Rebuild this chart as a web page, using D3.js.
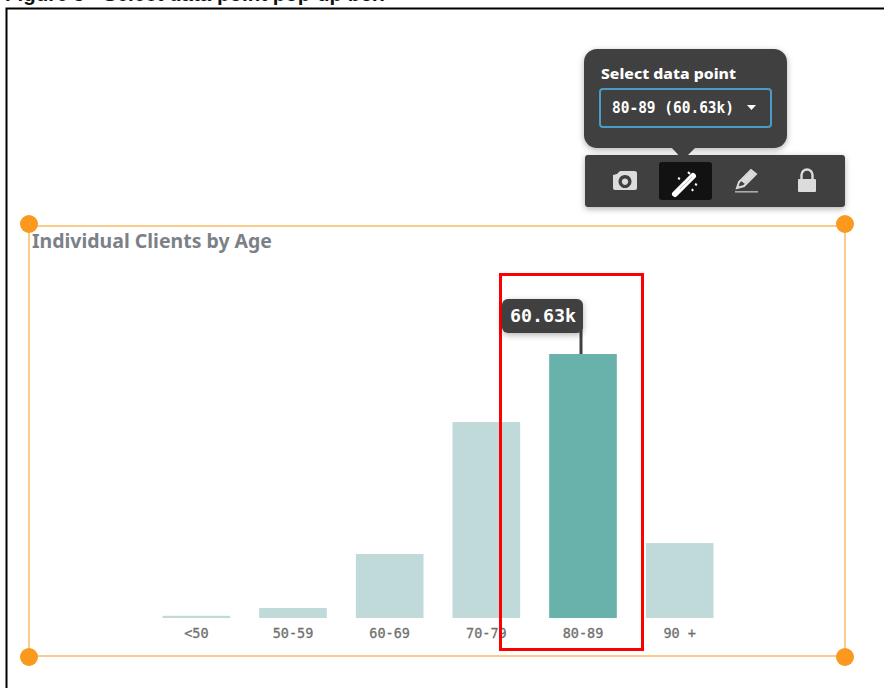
<!DOCTYPE html>
<html><head><meta charset="utf-8">
<script src="https://cdn.jsdelivr.net/npm/d3@7"></script>
<style>html,body{margin:0;padding:0;background:#fff;overflow:hidden}svg{display:block}</style>
</head><body><div id="c"></div>
<script>
const categories = ["<50","50-59","60-69","70-79","80-89","90 +"];
const clients = [0.5,2.3,14.7,45.0,60.63,17.2];
const selectedCategory = "80-89";
const pageCaption = "Figure 5 - Select data point pop-up box";
const chartTitle = "Individual Clients by Age";
const selectLabel = "Select data point";
const selectValue = "80-89 (60.63k)";
const tooltipLabel = "60.63k";

const svg = d3.select("#c").append("svg").attr("width",884).attr("height",688);
const defs = svg.append("defs");
const f = defs.append("filter").attr("id","sh").attr("x","-20%").attr("y","-20%").attr("width","140%").attr("height","150%");
f.append("feDropShadow").attr("dx",0).attr("dy",2).attr("stdDeviation",3).attr("flood-color","#000").attr("flood-opacity",.3);

// page caption and frame
svg.append("text").attr("x",5).attr("y",1).attr("font-family","Liberation Sans").attr("font-weight",700).attr("font-size",20.5).attr("fill","#111").text(pageCaption);
svg.append("path").attr("d","M6.5 688V8.5H884").attr("fill","none").attr("stroke","#000").attr("stroke-width",2);

// scales
const x = d3.scaleBand().domain(categories).range([148,728]).paddingInner(0.3).paddingOuter(0.15);
const y = d3.scaleLinear().domain([0,60.63]).range([618,354]);

// selection frame
svg.append("rect").attr("x",29).attr("y",226).attr("width",816).attr("height",430).attr("fill","none").attr("stroke","#fbbf6e").attr("stroke-width",1.6);

svg.append("text").attr("x",32).attr("y",248).attr("font-family","Noto Sans, Open Sans").attr("font-weight",700).attr("font-size",19).attr("fill","#7c8087").attr("textLength",240).attr("lengthAdjust","spacingAndGlyphs").text(chartTitle);

// bars
svg.append("g").selectAll("rect").data(categories).join("rect")
  .attr("x",d=>x(d)).attr("width",x.bandwidth())
  .attr("y",(d,i)=>y(clients[i])).attr("height",(d,i)=>y(0)-y(clients[i]))
  .attr("fill",d=>d===selectedCategory?"#69b2ac":"#c0dad9");

// x axis
const ax = svg.append("g").attr("transform","translate(0,618)").call(d3.axisBottom(x).tickSize(0).tickPadding(10));
ax.select(".domain").remove();
ax.selectAll("text").attr("font-family","DejaVu Sans Mono").attr("font-size",13.5).attr("fill","#707070").attr("stroke","#707070").attr("stroke-width",.3);

// red highlight
svg.append("rect").attr("x",500.5).attr("y",274.5).attr("width",142).attr("height",375).attr("fill","none").attr("stroke","#f00").attr("stroke-width",3);

// handles
[[29,224],[845,224],[29,657],[845,657]].forEach(p=>svg.append("circle").attr("cx",p[0]).attr("cy",p[1]).attr("r",9).attr("fill","#fb981e"));

// tooltip
const cx = x(selectedCategory)+x.bandwidth()/2;
svg.append("rect").attr("x",cx-3.5).attr("y",325).attr("width",3).attr("height",y(60.63)-325).attr("fill","#404040");
svg.append("rect").attr("x",502).attr("y",299).attr("width",81).attr("height",34).attr("rx",6).attr("fill","#404040").attr("filter","url(#sh)");
svg.append("text").attr("x",543).attr("y",322).attr("text-anchor","middle").attr("font-family","DejaVu Sans Mono").attr("font-weight",700).attr("font-size",18.3).attr("fill","#fff").text(tooltipLabel);

// toolbar
svg.append("rect").attr("x",585).attr("y",155).attr("width",260).attr("height",52).attr("rx",3).attr("fill","#404040").attr("filter","url(#sh)");
svg.append("rect").attr("x",659).attr("y",162).attr("width",53).attr("height",38).attr("rx",3).attr("fill","#121212");
// camera
svg.append("path").attr("fill-rule","evenodd").attr("fill","#dcdcdc")
 .attr("d","M613 175l4-1 3-3h14q3 0 3 2v15q0 2-2 2h-20q-2 0-2-2zM625 175a6.5 6.5 0 1 0 .01 0zM625 178.5a3.2 3.2 0 1 1-.01 0z");
// wand
svg.append("path").attr("d","M675 194L693 176").attr("stroke","#fff").attr("stroke-width",6).attr("stroke-linecap","round");
svg.append("path").attr("d","M680 189L692 177").attr("stroke","#bbb").attr("stroke-width",1);
svg.append("path").attr("d","M688 172l2 2M695 184l2 1M678 178l2 1M692 189l1 2").attr("stroke","#fff").attr("stroke-width",2);
// pencil
svg.append("path").attr("fill","none").attr("stroke","#dcdcdc").attr("stroke-width",2).attr("d","M737 188l2-6 12-12 5 4-12 12z");
svg.append("path").attr("fill","#dcdcdc").attr("d","M741 181l10-10 4 3-10 10z");
svg.append("rect").attr("x",735).attr("y",191).attr("width",23).attr("height",1.6).attr("fill","#aaa");
// lock
svg.append("rect").attr("x",798).attr("y",179).attr("width",18).attr("height",13).attr("rx",1).attr("fill","#dcdcdc");
svg.append("path").attr("d","M801.5 179v-4a5.5 5.5 0 0 1 11 0v4").attr("fill","none").attr("stroke","#dcdcdc").attr("stroke-width",2.4);

// popover
svg.append("rect").attr("x",584).attr("y",49).attr("width",203).attr("height",99).attr("rx",13).attr("fill","#404040").attr("filter","url(#sh)");
svg.append("path").attr("d","M671 147L683 160L696 147Z").attr("fill","#404040");
svg.append("text").attr("x",601).attr("y",79).attr("font-family","Noto Sans").attr("font-weight",800).attr("font-size",14.5).attr("fill","#fff").attr("textLength",135).attr("lengthAdjust","spacingAndGlyphs").text(selectLabel);
svg.append("rect").attr("x",600).attr("y",89).attr("width",171).attr("height",38).attr("rx",3).attr("fill","none").attr("stroke","#4a9cc7").attr("stroke-width",2);
svg.append("text").attr("x",612).attr("y",113).attr("font-family","DejaVu Sans Mono").attr("font-weight",700).attr("font-size",15).attr("fill","#fff").attr("textLength",122).attr("lengthAdjust","spacingAndGlyphs").text(selectValue);
svg.append("path").attr("d","M747 105h9l-4.5 5z").attr("fill","#fff");
</script></body></html>
